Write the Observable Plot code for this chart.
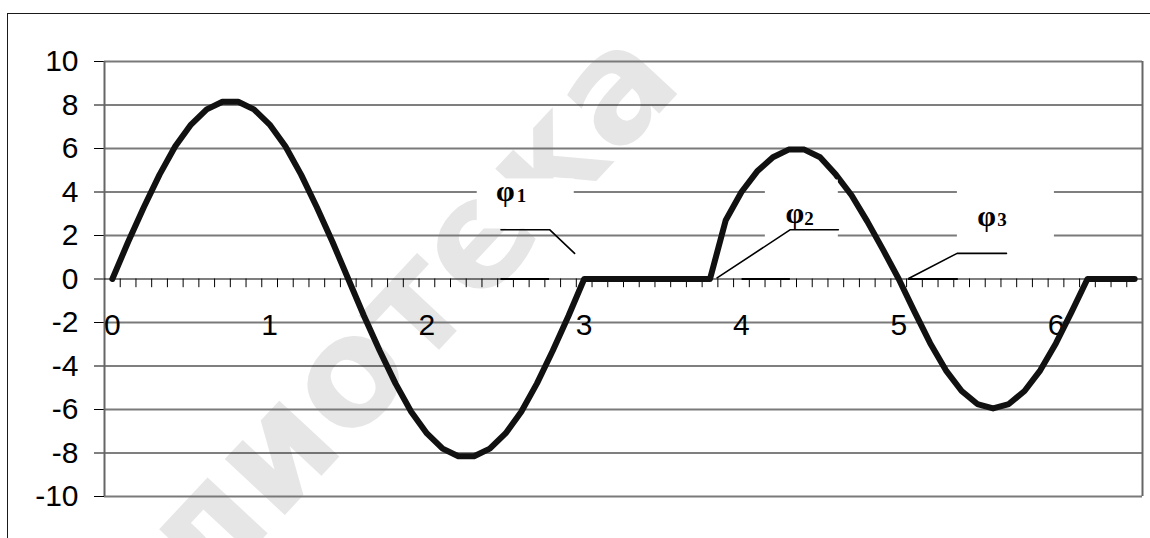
<!DOCTYPE html>
<html>
<head>
<meta charset="utf-8">
<script src="https://cdn.jsdelivr.net/npm/d3@7"></script>
<script src="https://cdn.jsdelivr.net/npm/@observablehq/plot@0.6"></script>
<style>
  html, body { margin: 0; padding: 0; background: #fff; overflow: hidden; }
  #chart { position: relative; width: 1150px; height: 538px; }
  #chart svg { position: absolute; left: 0; top: 0; }
  #border {
    position: absolute; left: 6.5px; top: 12.5px; width: 1300px; height: 700px;
    border-left: 1.5px solid #1a1a1a; border-top: 1.5px solid #1a1a1a;
    pointer-events: none; z-index: 2;
  }
</style>
</head>
<body>
<div id="chart"><div id="border"></div></div>
<script>
// Category positions along the horizontal axis (step 0.1)
const angle = [
  0.0, 0.1, 0.2, 0.3, 0.4, 0.5, 0.6, 0.7, 0.8, 0.9,
  1.0, 1.1, 1.2, 1.3, 1.4, 1.5, 1.6, 1.7, 1.8, 1.9,
  2.0, 2.1, 2.2, 2.3, 2.4, 2.5, 2.6, 2.7, 2.8, 2.9,
  3.0, 3.1, 3.2, 3.3, 3.4, 3.5, 3.6, 3.7, 3.8, 3.9,
  4.0, 4.1, 4.2, 4.3, 4.4, 4.5, 4.6, 4.7, 4.8, 4.9,
  5.0, 5.1, 5.2, 5.3, 5.4, 5.5, 5.6, 5.7, 5.8, 5.9,
  6.0, 6.1, 6.2, 6.3, 6.4, 6.5
];

// Waveform value at each category
const value = [
  0, 1.7, 3.3, 4.8, 6.1, 7.1, 7.8, 8.15, 8.15, 7.8,
  7.1, 6.1, 4.8, 3.3, 1.7, 0, -1.7, -3.3, -4.8, -6.1,
  -7.1, -7.8, -8.15, -8.15, -7.8, -7.1, -6.1, -4.8, -3.3, -1.7,
  0, 0, 0, 0, 0, 0, 0, 0, 0, 2.7,
  4.0, 4.95, 5.6, 5.95, 5.95, 5.6, 4.8, 3.85, 2.65, 1.35,
  0, -1.5, -2.95, -4.2, -5.15, -5.75, -5.95, -5.75, -5.15, -4.2,
  -2.95, -1.5, 0, 0, 0, 0
];

// Axis ticks, gridlines and labels
const yTicks = [-10, -8, -6, -4, -2, 0, 2, 4, 6, 8, 10];
const gridSoft = [-6, -2, 2, 6];
const gridHard = [-8, -4, 4, 8];
const xLabels = [0, 1, 2, 3, 4, 5, 6];
const xEdges = [-0.05, 6.55];

// Angle annotations: symbol, index, and their white backing boxes
const phiSymbols = [
  {x: 2.44, y: 4.02, text: "φ"},
  {x: 4.28, y: 3.0, text: "φ"},
  {x: 5.50, y: 2.86, text: "φ"}
];
const phiIndices = [
  {x: 2.572, y: 3.83, text: "1"},
  {x: 4.40, y: 2.75, text: "2"},
  {x: 5.626, y: 2.72, text: "3"}
];
const labelBoxes = [
  {x1: 2.32, x2: 2.937, y1: 2.3, y2: 4.6},
  {x1: 4.152, x2: 4.616, y1: 1.5, y2: 4.55},
  {x1: 5.373, x2: 5.99, y1: 1.5, y2: 4.55}
];
const leaders = [
  {id: 1, x: 2.471, y: 2.267}, {id: 1, x: 2.780, y: 2.267}, {id: 1, x: 2.939, y: 1.177},
  {id: 2, x: 4.616, y: 2.267}, {id: 2, x: 4.311, y: 2.267}, {id: 2, x: 3.845, y: 0.05},
  {id: 3, x: 5.685, y: 1.177}, {id: 3, x: 5.371, y: 1.177}, {id: 3, x: 5.063, y: 0.02}
];
const baseMarks = [
  {x1: 2.471, x2: 2.780, y: 0},
  {x1: 4.004, x2: 4.311, y: 0},
  {x1: 5.063, x2: 5.379, y: 0}
];

const watermark = [{x: 3.42, y: 10.4, text: "Библиотека"}];

const points = angle.map((a, k) => ({x: a, y: value[k]}));
const tickPos = angle.slice(1).map(a => a - 0.05);

const serif = "'Liberation Serif', 'Times New Roman', serif";

const chart = Plot.plot({
  width: 1150,
  height: 538,
  marginTop: 61,
  marginBottom: 42,
  marginLeft: 104,
  marginRight: 8,
  style: {
    fontFamily: "'Liberation Sans', Arial, sans-serif",
    fontSize: "30px",
    color: "#000",
    background: "transparent",
    overflow: "visible"
  },
  x: {domain: xEdges, axis: null},
  y: {
    domain: [-10, 10],
    ticks: yTicks,
    tickSize: 10,
    tickPadding: 16,
    tickFormat: d => String(d),
    label: null
  },
  marks: [
    Plot.text(watermark, {
      x: "x", y: "y", text: "text", rotate: -47, textAnchor: "end",
      fontSize: 150, fontWeight: "bold", fontFamily: "'DejaVu Sans', sans-serif",
      fill: "#e6e6e6"
    }),
    Plot.ruleY(gridSoft, {stroke: "#7a7a7a", strokeWidth: 2}),
    Plot.ruleY(gridHard, {stroke: "#000", strokeWidth: 1.1}),
    Plot.ruleY([-10, 10], {stroke: "#7a7a7a", strokeWidth: 2}),
    Plot.ruleX(xEdges, {y1: -10, y2: 10, stroke: "#666", strokeWidth: 2}),
    Plot.ruleY([0], {stroke: "#000", strokeWidth: 1.2}),
    Plot.ruleX(tickPos, {y1: 0, y2: -0.4, stroke: "#000", strokeWidth: 1}),
    Plot.text(xLabels, {x: d => d, y: 0, text: d => String(d), dy: 46.5, fontSize: 30}),
    Plot.line(points, {
      x: "x", y: "y", stroke: "#111", strokeWidth: 6,
      strokeLinejoin: "round", strokeLinecap: "round"
    }),
    Plot.rect(labelBoxes, {x1: "x1", x2: "x2", y1: "y1", y2: "y2", fill: "#fff"}),
    Plot.line(leaders, {x: "x", y: "y", z: "id", stroke: "#000", strokeWidth: 1.6}),
    Plot.ruleY(baseMarks, {x1: "x1", x2: "x2", y: "y", stroke: "#000", strokeWidth: 2.2}),
    Plot.text(phiSymbols, {
      x: "x", y: "y", text: "text", textAnchor: "start",
      fontFamily: serif, fontWeight: "bold", fontSize: 30
    }),
    Plot.text(phiIndices, {
      x: "x", y: "y", text: "text", textAnchor: "start",
      fontFamily: serif, fontWeight: "bold", fontSize: 19
    })
  ]
});

document.getElementById("chart").appendChild(chart);
</script>
</body>
</html>
